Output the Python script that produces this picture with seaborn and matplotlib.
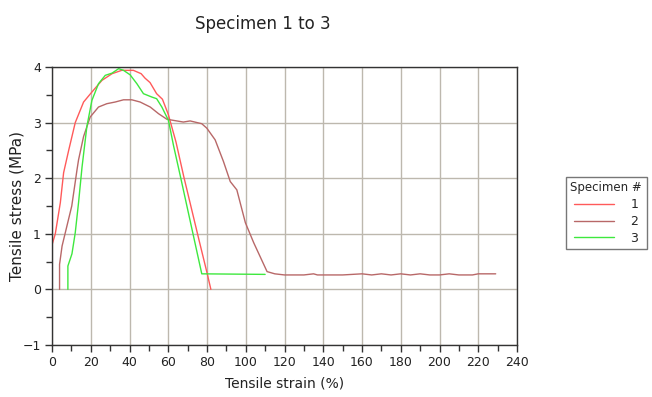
import numpy as np
import pandas as pd
import matplotlib
matplotlib.use("Agg")
import matplotlib.pyplot as plt
from matplotlib.ticker import MultipleLocator
import seaborn as sns

# Specimen 1
strain_1 = [0, 0, 1.7, 4.3, 6, 8.6, 12, 16.3, 20.6, 25.8, 31, 36, 42, 46, 48,
            50.6, 54, 57, 60, 64, 68, 72, 76, 80, 82]
stress_1 = [0, 0.8, 1.0, 1.56, 2.1, 2.5, 3.0, 3.37, 3.55, 3.76, 3.88, 3.94, 3.94,
            3.88, 3.8, 3.72, 3.52, 3.42, 3.15, 2.65, 2.03, 1.45, 0.87, 0.3, 0]

# Specimen 2
strain_2 = [3.9, 3.9, 5.2, 7.7, 10.2, 12.9, 13.7, 16.3, 19.7, 24, 28.3, 32.6, 36.9,
            41.2, 45.5, 50.7, 55, 59.3, 64.4, 67.8, 71.3, 77.3, 79.9, 84.2, 88.5,
            92, 95.4, 99.8, 104.1, 111, 115, 120, 130, 135, 137, 150, 160, 165,
            170, 175, 180, 185, 190, 195, 200, 205, 210, 217, 220, 229]
stress_2 = [0, 0.45, 0.78, 1.14, 1.5, 2.15, 2.33, 2.75, 3.1, 3.28, 3.34, 3.37, 3.41,
            3.41, 3.37, 3.28, 3.16, 3.06, 3.03, 3.01, 3.03, 2.98, 2.9, 2.69, 2.3,
            1.94, 1.79, 1.2, 0.84, 0.32, 0.28, 0.26, 0.26, 0.28, 0.26, 0.26, 0.28,
            0.26, 0.28, 0.26, 0.28, 0.26, 0.28, 0.26, 0.26, 0.28, 0.26, 0.26, 0.28, 0.28]

# Specimen 3
strain_3 = [8.2, 8.2, 10.3, 12, 13.7, 15.5, 18, 20.6, 24, 27.5, 31, 34.4, 36.9,
            40.3, 43.8, 47.2, 51.5, 54, 56.7, 60.1, 62.7, 66.1, 77.3, 110]
stress_3 = [0, 0.42, 0.64, 1.02, 1.56, 2.2, 2.93, 3.4, 3.7, 3.85, 3.89, 3.97, 3.94,
            3.86, 3.7, 3.52, 3.46, 3.43, 3.28, 3.04, 2.59, 2.06, 0.28, 0.27]

specimens = ["1", "2", "3"]
colors = ["#ff5a5a", "#b86868", "#3ee83e"]

sns.set_style("white")
plt.rcParams["font.family"] = ["DejaVu Sans"]

fig = plt.figure(figsize=(6.52, 3.97), dpi=100)
ax = fig.add_axes([52 / 652, 1 - 345 / 397, (517 - 52) / 652, (345 - 67) / 397])

for name, xs, ys, c in zip(specimens, [strain_1, strain_2, strain_3],
                           [stress_1, stress_2, stress_3], colors):
    sub = pd.DataFrame({"strain": xs, "stress": ys})
    sns.lineplot(data=sub, x="strain", y="stress", sort=False, estimator=None,
                 color=c, linewidth=1.0, ax=ax, label=name)

ax.set_xlim(0, 240)
ax.set_ylim(-1, 4)
ax.xaxis.set_major_locator(MultipleLocator(20))
ax.xaxis.set_minor_locator(MultipleLocator(10))
ax.yaxis.set_major_locator(MultipleLocator(1))
ax.yaxis.set_minor_locator(MultipleLocator(0.5))
ax.grid(True, which="major", color="#bdb8ae", linewidth=1.0)
ax.set_axisbelow(True)
for s in ax.spines.values():
    s.set_color("#333333")
    s.set_linewidth(1.0)
ax.tick_params(which="major", direction="out", length=5, width=1, color="#333333",
               labelsize=9, labelcolor="#222222", bottom=True, left=True, pad=3)
ax.tick_params(which="minor", direction="out", length=4, width=1, color="#333333",
               bottom=True, left=True)

ax.set_xlabel("Tensile strain (%)", fontsize=10, color="#222222")
ax.set_ylabel("Tensile stress (MPa)", fontsize=11, color="#222222")
ax.xaxis.set_label_coords(0.5, -0.115)
ax.yaxis.set_label_coords(-0.06, 0.5)

fig.text(263 / 652, 1 - 24 / 397, "Specimen 1 to 3", ha="center", va="center",
         fontsize=12, color="#222222")

leg = ax.legend(title="Specimen #", loc="upper left",
                bbox_to_anchor=(566 / 652, 1 - 177 / 397),
                bbox_transform=fig.transFigure,
                frameon=True, fancybox=False, fontsize=9, title_fontsize=8.5,
                handlelength=3.2, handletextpad=1.3, borderpad=0.35,
                labelspacing=0.3, borderaxespad=0)
leg.get_frame().set_edgecolor("#555555")
leg.get_frame().set_linewidth(1.0)

fig.savefig("out.png", dpi=100)
